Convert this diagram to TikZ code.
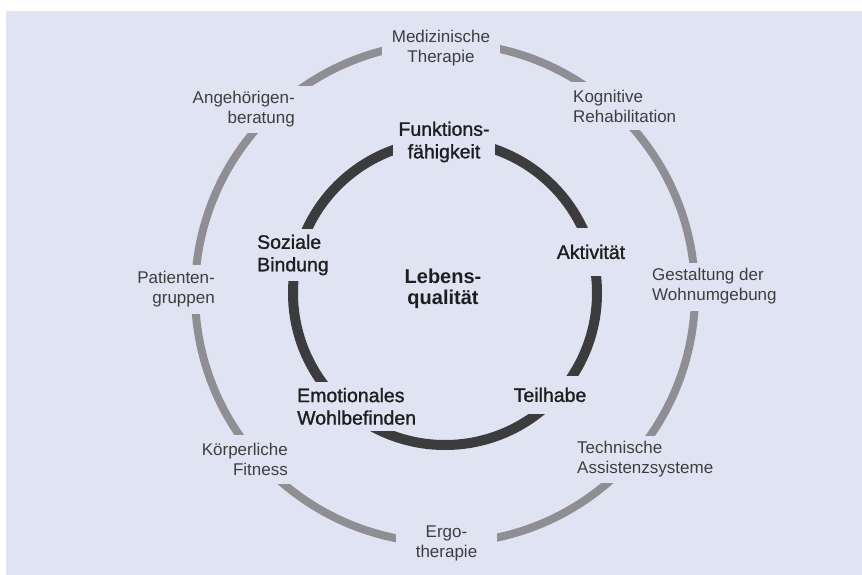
\documentclass[tikz,border=0pt]{standalone}
\usepackage{fontspec}
\setmainfont{Liberation Sans}
\newfontfamily\heavyfont{Liberation Sans}[FakeBold=1.2]
\definecolor{bgc}{HTML}{E0E3F1}
\definecolor{ringlight}{HTML}{8E8E93}
\definecolor{ringdark}{HTML}{3C3C3F}
\definecolor{txtgray}{HTML}{3E3E40}
\definecolor{txtdark}{HTML}{1E1E20}
\begin{document}
\begin{tikzpicture}[x=1pt,y=-1pt,
  outerring/.style={draw=ringlight, line width=8pt},
  innerring/.style={draw=ringdark, line width=10pt},
  outerlabel/.style={fill=bgc, text=txtgray, font=\fontsize{17}{20}\selectfont, inner xsep=6pt, inner ysep=6pt},
  innerlabel/.style={fill=bgc, text=txtdark, font=\heavyfont\fontsize{19.5}{22.5}\selectfont, inner xsep=6pt, inner ysep=6pt},
  centerlabel/.style={text=txtdark, font=\fontsize{20}{21}\selectfont\bfseries, inner sep=2pt}
]
\useasboundingbox (0,0) rectangle (862,575);
\fill[white] (0,0) rectangle (862,575);
\fill[bgc] (6,11) rectangle (862,575);
\coordinate (c) at (445,293);
\draw[outerring] (c) circle[radius=250pt];
\draw[innerring] (c) circle[radius=152pt];
% outer ring labels
\node[outerlabel, align=center, inner xsep=10pt] (med) at (441,48.6) {Medizinische\\Therapie};
\node[outerlabel, align=right, anchor=east, inner xsep=20pt, inner ysep=5.5pt] (ang) at (315,109.6) {Angehörigen-\\beratung};
\node[outerlabel, align=left, anchor=west, inner xsep=8pt, inner ysep=8pt] (kog) at (565,106) {Kognitive\\Rehabilitation};
\node[outerlabel, align=right, anchor=east, inner ysep=6.5pt] (pat) at (221,289.6) {Patienten-\\gruppen};
\node[outerlabel, align=left, anchor=west] (ges) at (646,286.6) {Gestaltung der\\Wohnumgebung};
\node[outerlabel, align=right, anchor=east, inner ysep=8pt] (koe) at (294,459.3) {Körperliche\\Fitness};
\node[outerlabel, align=left, anchor=west, inner ysep=5.5pt] (tech) at (571,459.1) {Technische\\Assistenzsysteme};
\node[outerlabel, align=center, inner xsep=20pt] (ergo) at (446.5,543) {Ergo-\\therapie};
% inner ring labels
\node[innerlabel, align=center, inner xsep=5.5pt] (funk) at (444,142) {Funktions-\\fähigkeit};
\node[innerlabel, inner ysep=16.5pt] (akt) at (591,251.9) {Aktivität};
\node[innerlabel, align=left, anchor=west] (soz) at (251,255) {Soziale\\Bindung};
\node[innerlabel, align=left, anchor=west] (emo) at (291,406.4) {Emotionales\\Wohlbefinden};
\node[innerlabel, inner ysep=12pt] (teil) at (550,394.9) {Teilhabe};
% centre
\node[centerlabel, align=center] (leb) at (443,289.3) {Lebens-\\qualität};
\end{tikzpicture}
\end{document}
